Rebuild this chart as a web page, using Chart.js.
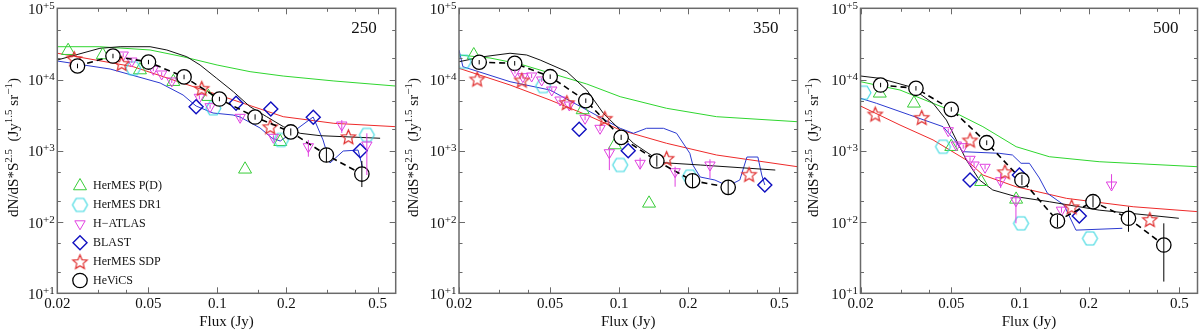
<!DOCTYPE html>
<html>
<head>
<meta charset="utf-8">
<script src="https://cdn.jsdelivr.net/npm/chart.js@4.4.0/dist/chart.umd.min.js"></script>
<style>
body { margin: 0; background: #fff; }
#wrap { position: relative; width: 1200px; height: 332px; }
#wrap canvas { position: absolute; top: 0; }
</style>
</head>
<body>
<div id="wrap">
  <canvas id="c250" width="400" height="332" style="left:0px"></canvas>
  <canvas id="c350" width="400" height="332" style="left:400px"></canvas>
  <canvas id="c500" width="400" height="332" style="left:800px"></canvas>
</div>
<script>
// ---- datos (flujo en Jy, dN/dS*S^2.5) ----
var xMajor = [0.02, 0.05, 0.1, 0.2, 0.5];
var xMinor = [0.03, 0.04, 0.15, 0.3, 0.4];
var yMajor = [10, 100, 1000, 10000, 100000];
var yExp = ['+1', '+2', '+3', '+4', '+5'];

var hevicsS = [0.0245, 0.035, 0.05, 0.0715, 0.102, 0.146, 0.209, 0.299, 0.427];

// 250
var hevics250 = [15500, 21400, 17600, 10900, 5330, 2980, 1840, 873, 472];
var hevicsLo250 = [14400, 19900, 16400, 10100, 4960, 2730, 1640, 690, 310];
var hevicsHi250 = [16700, 23000, 18900, 11700, 5730, 3250, 2060, 1100, 720];
var blackS250 = [0.02, 0.0307, 0.0376, 0.0508, 0.0601, 0.0735, 0.084, 0.0993, 0.1174, 0.1388, 0.164, 0.194, 0.2296, 0.281, 0.513];
var black250 = [18800, 27460, 28900, 28900, 26000, 20900, 16000, 10400, 6750, 4160, 3010, 2180, 1760, 1630, 1500];
var greenS250 = [0.02, 0.0307, 0.0508, 0.0708, 0.0997, 0.1388, 0.1936, 0.3224, 0.6];
var green250 = [28900, 28900, 26000, 20900, 16000, 12900, 11200, 9550, 8110];
var redS250 = [0.02, 0.0429, 0.0709, 0.1176, 0.1938, 0.3224, 0.6];
var red250 = [23400, 15150, 8860, 5160, 3010, 2430, 2180];
var blueS250 = [0.02, 0.034, 0.0562, 0.0708, 0.0807, 0.0957, 0.117, 0.1256, 0.1535, 0.173, 0.188, 0.2076, 0.2617, 0.289, 0.31, 0.354, 0.411, 0.433];
var blue250 = [18200, 14060, 8950, 6070, 4250, 3390, 3180, 2980, 2090, 1510, 1370, 1720, 2980, 1420, 675, 993, 1025, 537];
var pdS250 = [0.0223, 0.0316, 0.0459, 0.0642, 0.0913, 0.132, 0.188];
var pd250 = [25400, 22100, 13600, 9330, 5750, 550, 1340];
var dr1S250 = [0.0429, 0.096, 0.1895, 0.449];
var dr1250 = [14380, 3950, 1420, 1670];
var atlasS250 = [0.0388, 0.0423, 0.0525, 0.0571, 0.0632, 0.0834, 0.0929, 0.1256, 0.1755, 0.2494, 0.349, 0.449];
var atlas250 = [22100, 18200, 13930, 11970, 9550, 5640, 4160, 2950, 1547, 1142, 2300, 1206];
var atlasLo250 = [20800, 17100, 13100, 11200, 8950, 5280, 3900, 2600, 1400, 826, 1780, 458];
var atlasHi250 = [23500, 19400, 14800, 12700, 10200, 6000, 4430, 3150, 1650, 1420, 2700, 1760];
var blastS250 = [0.0807, 0.1206, 0.171, 0.262, 0.42];
var blast250 = [4160, 4640, 3860, 2950, 1000];
var sdpS250 = [0.0237, 0.0382, 0.0854, 0.17, 0.373];
var sdp250 = [19740, 16900, 7540, 2180, 1580];

// 350
var hevics350 = [17500, 16900, 10960, 5050, 1545, 719, 380, 307];
var hevicsLo350 = [16300, 15700, 10200, 4700, 1420, 600, 300, 240];
var hevicsHi350 = [18800, 18200, 11800, 5430, 1680, 860, 480, 390];
var blackS350 = [0.02, 0.0255, 0.0334, 0.0395, 0.0452, 0.0591, 0.0722, 0.0853, 0.101, 0.1154, 0.141, 0.156, 0.2256, 0.48];
var black350 = [17800, 20900, 23400, 22100, 18800, 12900, 7130, 3360, 1960, 1275, 826, 681, 632, 537];
var greenS350 = [0.02, 0.0273, 0.0369, 0.0499, 0.0722, 0.101, 0.161, 0.266, 0.6];
var green350 = [22100, 20070, 16520, 12360, 8660, 5750, 3950, 3010, 2560];
var redS350 = [0.02, 0.0334, 0.0499, 0.0722, 0.101, 0.161, 0.266, 0.6];
var red350 = [14380, 8386, 5160, 3180, 1960, 1275, 873, 598];
var blueS350 = [0.02, 0.0208, 0.0334, 0.0499, 0.0722, 0.101, 0.1154, 0.1317, 0.156, 0.178, 0.2034, 0.2096, 0.2256, 0.2616, 0.298, 0.336, 0.361, 0.403, 0.419, 0.432];
var blue350 = [26000, 15150, 9330, 7130, 3740, 2070, 1760, 2070, 2070, 1760, 922, 632, 429, 389, 321, 389, 818, 818, 457, 331];
var pdS350 = [0.0232, 0.0693, 0.0958, 0.135];
var pd350 = [22100, 3740, 1206, 183];
var dr1S350 = [0.021, 0.0466, 0.101, 0.2034];
var dr1350 = [17800, 8110, 632, 434];
var atlasS350 = [0.0351, 0.038, 0.0415, 0.0459, 0.0508, 0.0552, 0.0606, 0.071, 0.0825, 0.0906, 0.1234, 0.1754, 0.249];
var atlas350 = [12900, 10960, 11220, 9860, 7130, 5160, 4390, 2860, 2070, 940, 668, 509, 632];
var atlasLo350 = [12100, 10300, 10500, 9250, 6700, 4850, 4120, 2690, 1900, 536, 560, 313, 415];
var atlasHi350 = [13700, 11700, 11950, 10500, 7600, 5500, 4680, 3050, 2200, 1142, 800, 598, 760];
var blastS350 = [0.0669, 0.1095, 0.432];
var blast350 = [2000, 1000, 331];
var sdpS350 = [0.024, 0.0376, 0.0591, 0.0866, 0.161, 0.369];
var sdp350 = [10190, 9860, 4760, 2860, 785, 468];

// 500
var hevics500 = [8380, 7540, 3820, 1300, 389, 103.5, 193, 113, 47.6];
var hevicsLo500 = [7800, 7000, 3550, 1200, 330, 85, 160, 73, 14.6];
var hevicsHi500 = [9000, 8100, 4100, 1400, 460, 126, 235, 164, 96];
var blackS500 = [0.02, 0.0243, 0.0329, 0.0416, 0.0476, 0.0526, 0.0582, 0.0665, 0.076, 0.0962, 0.1344, 0.2224, 0.497];
var black500 = [11220, 10400, 7940, 4640, 2700, 1420, 743, 389, 282, 227, 193, 147, 113];
var greenS500 = [0.02, 0.0298, 0.0492, 0.0688, 0.0962, 0.1344, 0.2224, 0.6];
var green500 = [9330, 7130, 3740, 2180, 1142, 826, 703, 598];
var redS500 = [0.02, 0.0298, 0.0416, 0.0582, 0.0688, 0.0962, 0.16, 0.3136, 0.6];
var red500 = [4250, 2300, 1420, 743, 457, 313, 215, 164, 140];
var blueS500 = [0.02, 0.0235, 0.0329, 0.046, 0.0517, 0.0561, 0.0813, 0.0927, 0.1011, 0.11, 0.1216, 0.132, 0.156, 0.176, 0.281];
var blue500 = [5460, 4640, 3180, 2180, 1420, 972, 922, 873, 668, 668, 415, 253, 173, 77, 81.7];
var pdS500 = [0.0243, 0.0343, 0.05, 0.0676, 0.0962];
var pd500 = [6410, 4640, 1142, 368, 208];
var dr1S500 = [0.0206, 0.046, 0.1011, 0.2027];
var dr1500 = [6530, 1142, 96, 59];
var atlasS500 = [0.0485, 0.0526, 0.0564, 0.0604, 0.0629, 0.0703, 0.0823, 0.096, 0.152, 0.252];
var atlas500 = [1915, 1206, 1142, 760, 632, 587, 380, 199, 147, 331];
var atlasLo500 = [1800, 1130, 1070, 710, 590, 550, 300, 96, 135, 290];
var atlasHi500 = [2040, 1290, 1220, 810, 680, 630, 480, 240, 160, 470];
var blastS500 = [0.0604, 0.0994, 0.182];
var blast500 = [389, 457, 121.6];
var sdpS500 = [0.0232, 0.0371, 0.0604, 0.0859, 0.1685, 0.371];
var sdp500 = [3290, 2950, 1420, 509, 164, 109];

var FONT = '"Liberation Serif", "DejaVu Serif", serif';

function punto(xs, ys) {
    return xs.map(function (x, i) { return { x: x, y: ys[i] }; });
}

function estrella(color, r) {
    var c = document.createElement('canvas');
    var s = Math.ceil(r * 2 + 4);
    c.width = s; c.height = s;
    var g = c.getContext('2d');
    g.strokeStyle = color; g.lineWidth = 1.2;
    g.beginPath();
    for (var i = 0; i < 10; i++) {
        var ang = -Math.PI / 2 + i * Math.PI / 5;
        var rr = i % 2 ? r * 0.45 : r;
        g.lineTo(s / 2 + rr * Math.cos(ang), s / 2 + 0.8 + rr * Math.sin(ang));
    }
    g.closePath(); g.stroke();
    return c;
}

function hexagono(color, r) {
    var c = document.createElement('canvas');
    var s = Math.ceil(r * 2 + 4);
    c.width = s; c.height = s;
    var g = c.getContext('2d');
    g.strokeStyle = color; g.lineWidth = 1.1;
    g.beginPath();
    for (var i = 0; i < 6; i++) {
        var ang = i * Math.PI / 3;
        g.lineTo(s / 2 + r * Math.cos(ang), s / 2 + r * Math.sin(ang));
    }
    g.closePath(); g.stroke();
    return c;
}

var marcas = [
    { key: 'pd', label: 'HerMES P(D)', color: '#38cc38', style: 'triangle', radius: 7.5, rotation: 0, fill: 'rgba(0,0,0,0)', width: 1 },
    { key: 'dr1', label: 'HerMES DR1', color: '#38d8e0', style: hexagono('#38d8e0', 7.5), radius: 7, rotation: 0, fill: 'rgba(0,0,0,0)', width: 1 },
    { key: 'atlas', label: 'H\u2212ATLAS', color: '#e040e0', style: 'triangle', radius: 6, rotation: 180, fill: 'rgba(0,0,0,0)', width: 1 },
    { key: 'blast', label: 'BLAST', color: '#1010c0', style: 'rectRot', radius: 7, rotation: 0, fill: 'rgba(0,0,0,0)', width: 1.4 },
    { key: 'sdp', label: 'HerMES SDP', color: '#e03030', style: estrella('#e03030', 7.5), radius: 7, rotation: 0, fill: 'rgba(0,0,0,0)', width: 1 },
    { key: 'hevics', label: 'HeViCS', color: '#000000', style: 'circle', radius: 7.2, rotation: 0, fill: '#ffffff', width: 1.3 }
];

function linea(xs, ys, color, orden) {
    return { data: punto(xs, ys), showLine: true, borderColor: color, borderWidth: 1,
             pointRadius: 0, fill: false, tension: 0, order: orden };
}

function simbolo(xs, ys, m, orden, lo, hi) {
    return { data: punto(xs, ys), showLine: false, pointStyle: m.style, pointRadius: m.radius,
             pointRotation: m.rotation, pointBorderColor: m.color, pointBackgroundColor: m.fill,
             pointBorderWidth: m.width, order: orden, errLo: lo, errHi: hi, errColor: m.color };
}

function dibujaMarca(ctx, m, x, y) {
    if (typeof m.style !== 'string') {
        ctx.drawImage(m.style, x - m.style.width / 2, y - m.style.height / 2);
        return;
    }
    var r = m.radius;
    ctx.save();
    ctx.strokeStyle = m.color; ctx.fillStyle = m.fill; ctx.lineWidth = m.width;
    ctx.beginPath();
    if (m.style === 'circle') {
        ctx.arc(x, y, r, 0, 2 * Math.PI);
    } else if (m.style === 'rectRot') {
        ctx.moveTo(x - r, y); ctx.lineTo(x, y - r); ctx.lineTo(x + r, y); ctx.lineTo(x, y + r); ctx.closePath();
    } else {
        var s = m.rotation ? -1 : 1;
        ctx.moveTo(x, y - s * r);
        ctx.lineTo(x + 0.866 * r, y + s * 0.5 * r);
        ctx.lineTo(x - 0.866 * r, y + s * 0.5 * r);
        ctx.closePath();
    }
    ctx.fill(); ctx.stroke();
    ctx.restore();
}

function tituloY(ctx, x, y) {
    var partes = [['dN/dS*S', 0], ['2.5', 1], ['  (Jy', 0], ['1.5', 1], [' sr', 0], ['\u22121', 1], [')', 0]];
    ctx.save();
    ctx.translate(x, y);
    ctx.rotate(-Math.PI / 2);
    ctx.fillStyle = '#111';
    ctx.textBaseline = 'alphabetic';
    ctx.textAlign = 'left';
    var total = 0;
    partes.forEach(function (p) {
        ctx.font = (p[1] ? '11px ' : '15px ') + FONT;
        p.push(ctx.measureText(p[0]).width);
        total += p[2];
    });
    var pos = -total / 2;
    partes.forEach(function (p) {
        ctx.font = (p[1] ? '11px ' : '15px ') + FONT;
        ctx.fillText(p[0], pos, p[1] ? -6 : 0);
        pos += p[2];
    });
    ctx.restore();
}

var marco = {
    id: 'marco',
    afterDatasetsDraw: function (chart) {
        var ctx = chart.ctx, ys = chart.scales.y, xs = chart.scales.x;
        ctx.save();
        ctx.lineWidth = 1;
        chart.data.datasets.forEach(function (d) {
            if (!d.errLo) return;
            ctx.strokeStyle = d.errColor;
            d.data.forEach(function (p, i) {
                var px = xs.getPixelForValue(p.x);
                ctx.beginPath();
                ctx.moveTo(px, ys.getPixelForValue(d.errLo[i]));
                ctx.lineTo(px, ys.getPixelForValue(d.errHi[i]));
                ctx.stroke();
            });
        });
        ctx.restore();
    },
    afterDraw: function (chart) {
        var ctx = chart.ctx, a = chart.chartArea, xs = chart.scales.x, ys = chart.scales.y;
        var opt = chart.options.plugins.marco;
        ctx.save();
        ctx.strokeStyle = '#6a6a6a';
        ctx.lineWidth = 1.5;
        ctx.strokeRect(a.left, a.top, a.right - a.left, a.bottom - a.top);
        ctx.lineWidth = 1;
        function tx(v, len) {
            var p = Math.round(xs.getPixelForValue(v)) + 0.5;
            ctx.beginPath();
            ctx.moveTo(p, a.bottom); ctx.lineTo(p, a.bottom - len);
            ctx.moveTo(p, a.top); ctx.lineTo(p, a.top + len);
            ctx.stroke();
        }
        function ty(v, len) {
            var p = Math.round(ys.getPixelForValue(v)) + 0.5;
            ctx.beginPath();
            ctx.moveTo(a.left, p); ctx.lineTo(a.left + len, p);
            ctx.moveTo(a.right, p); ctx.lineTo(a.right - len, p);
            ctx.stroke();
        }
        xMajor.forEach(function (v) { tx(v, 6); });
        xMinor.forEach(function (v) { tx(v, 3.5); });
        yMajor.forEach(function (v) {
            ty(v, 6); ty(v * 2, 3.5); ty(v * 5, 3.5);
        });

        ctx.fillStyle = '#111';
        ctx.font = '15px ' + FONT;
        ctx.textAlign = 'center';
        ctx.textBaseline = 'alphabetic';
        xMajor.forEach(function (v) {
            ctx.fillText(String(v), xs.getPixelForValue(v), 308);
        });
        ctx.fillText('Flux (Jy)', (a.left + a.right) / 2, 326);

        ctx.textAlign = 'right';
        yMajor.forEach(function (v, i) {
            var py = ys.getPixelForValue(v);
            ctx.font = '11px ' + FONT;
            var w = ctx.measureText(yExp[i]).width;
            ctx.fillText(yExp[i], a.left - 2.5, py + 0.5);
            ctx.font = '15px ' + FONT;
            ctx.fillText('10', a.left - 2.5 - w, py + 5.5);
        });

        ctx.font = '17px ' + FONT;
        ctx.fillText(opt.banda, a.right - 19, 33);

        tituloY(ctx, 17.5, 147.5);

        if (opt.leyenda) {
            ctx.font = '12px ' + FONT;
            ctx.textAlign = 'left';
            ctx.textBaseline = 'middle';
            marcas.forEach(function (m, i) {
                var y = 186 + i * 18.9;
                dibujaMarca(ctx, m, 80, y);
                ctx.fillStyle = '#111';
                ctx.fillText(m.label, 93, y);
            });
        }
        ctx.restore();
    }
};

function panel(id, banda, pads, d, leyenda) {
    var M = {};
    marcas.forEach(function (m) { M[m.key] = m; });
    var datasets = [
        linea(d.green[0], d.green[1], '#2fd62f', 20),
        linea(d.red[0], d.red[1], '#ee2a2a', 19),
        linea(d.blue[0], d.blue[1], '#2c3ad0', 18),
        linea(d.black[0], d.black[1], '#111111', 17),
        simbolo(d.pd[0], d.pd[1], M.pd, 8),
        simbolo(d.dr1[0], d.dr1[1], M.dr1, 7),
        simbolo(d.atlas[0], d.atlas[1], M.atlas, 6, d.atlas[2], d.atlas[3]),
        simbolo(d.blast[0], d.blast[1], M.blast, 5),
        simbolo(d.sdp[0], d.sdp[1], M.sdp, 4)
    ];
    var hev = simbolo(d.hevics[0], d.hevics[1], M.hevics, 1, d.hevics[2], d.hevics[3]);
    hev.showLine = true;
    hev.borderColor = '#000';
    hev.borderWidth = 1.6;
    hev.borderDash = [6, 4];
    datasets.push(hev);

    new Chart(document.getElementById(id), {
        type: 'scatter',
        data: { datasets: datasets },
        options: {
            responsive: false,
            animation: false,
            devicePixelRatio: 1,
            layout: { autoPadding: false, padding: { left: pads[0], right: pads[1], top: 8.3, bottom: 38.7 } },
            plugins: {
                legend: { display: false },
                tooltip: { enabled: false },
                marco: { banda: banda, leyenda: leyenda }
            },
            scales: {
                x: { type: 'logarithmic', min: 0.02, max: 0.6, display: false },
                y: { type: 'logarithmic', min: 10, max: 100000, display: false }
            }
        },
        plugins: [marco]
    });
}

panel('c250', '250', [57.3, 4.3], {
    green: [greenS250, green250], red: [redS250, red250], blue: [blueS250, blue250], black: [blackS250, black250],
    pd: [pdS250, pd250], dr1: [dr1S250, dr1250], atlas: [atlasS250, atlas250, atlasLo250, atlasHi250],
    blast: [blastS250, blast250], sdp: [sdpS250, sdp250],
    hevics: [hevicsS, hevics250, hevicsLo250, hevicsHi250]
}, true);

panel('c350', '350', [59, 2.5], {
    green: [greenS350, green350], red: [redS350, red350], blue: [blueS350, blue350], black: [blackS350, black350],
    pd: [pdS350, pd350], dr1: [dr1S350, dr1350], atlas: [atlasS350, atlas350, atlasLo350, atlasHi350],
    blast: [blastS350, blast350], sdp: [sdpS350, sdp350],
    hevics: [hevicsS.slice(0, 8), hevics350, hevicsLo350, hevicsHi350]
}, false);

panel('c500', '500', [60.5, 2.5], {
    green: [greenS500, green500], red: [redS500, red500], blue: [blueS500, blue500], black: [blackS500, black500],
    pd: [pdS500, pd500], dr1: [dr1S500, dr1500], atlas: [atlasS500, atlas500, atlasLo500, atlasHi500],
    blast: [blastS500, blast500], sdp: [sdpS500, sdp500],
    hevics: [hevicsS, hevics500, hevicsLo500, hevicsHi500]
}, false);
</script>
</body>
</html>
